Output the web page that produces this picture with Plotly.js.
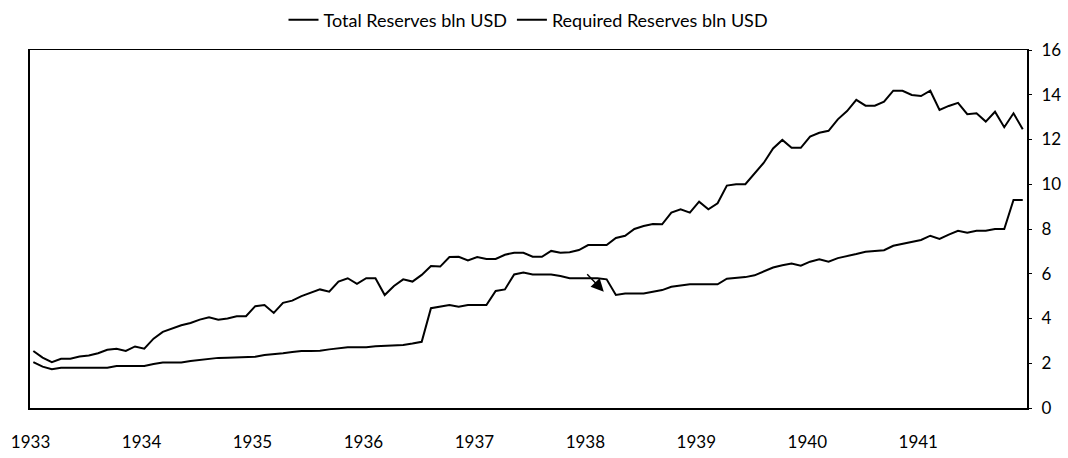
<!DOCTYPE html>
<html>
<head>
<meta charset="utf-8">
<script src="https://cdn.plot.ly/plotly-3.0.1.min.js"></script>
<style>
  html, body { margin: 0; padding: 0; background: #fff; }
  #chart { width: 1068px; height: 458px; }
</style>
</head>
<body>
<div id="chart"></div>
<script>
// Monthly observations, January 1933 – December 1941
const startYear = 1933;
const yearTicks = [1933, 1934, 1935, 1936, 1937, 1938, 1939, 1940, 1941];
const yTicks = [0, 2, 4, 6, 8, 10, 12, 14, 16];

const totalReserves = [
  2.55, 2.25, 2.05, 2.20, 2.20, 2.30, 2.35, 2.45, 2.60, 2.65, 2.55, 2.75,
  2.65, 3.10, 3.40, 3.55, 3.70, 3.80, 3.95, 4.05, 3.95, 4.00, 4.10, 4.10,
  4.55, 4.60, 4.25, 4.70, 4.80, 5.00, 5.15, 5.30, 5.20, 5.65, 5.80, 5.55,
  5.80, 5.80, 5.05, 5.45, 5.75, 5.65, 5.95, 6.35, 6.32, 6.75, 6.76, 6.60,
  6.75, 6.66, 6.66, 6.85, 6.94, 6.94, 6.76, 6.76, 7.02, 6.94, 6.96, 7.06,
  7.28, 7.28, 7.28, 7.60, 7.70, 8.00, 8.13, 8.22, 8.21, 8.73, 8.88, 8.73,
  9.22, 8.88, 9.15, 9.94, 10.00, 10.00, 10.50, 10.96, 11.60, 11.98, 11.63, 11.63,
  12.13, 12.30, 12.39, 12.90, 13.27, 13.77, 13.51, 13.51, 13.69, 14.18, 14.18, 13.99,
  13.94, 14.18, 13.32, 13.50, 13.64, 13.13, 13.17, 12.80, 13.24, 12.55, 13.17, 12.46
];

const requiredReserves = [
  2.05, 1.85, 1.73, 1.80, 1.80, 1.80, 1.80, 1.80, 1.80, 1.88, 1.88, 1.88,
  1.88, 1.97, 2.03, 2.03, 2.03, 2.10, 2.15, 2.22, 2.24, 2.25, 2.27, 2.27,
  2.29, 2.37, 2.40, 2.45, 2.50, 2.55, 2.55, 2.56, 2.62, 2.66, 2.71, 2.71,
  2.71, 2.76, 2.78, 2.80, 2.82, 2.88, 2.96, 4.46, 4.53, 4.60, 4.53, 4.60,
  4.60, 4.60, 5.23, 5.30, 5.97, 6.06, 5.97, 5.97, 5.97, 5.90, 5.80, 5.80,
  5.80, 5.80, 5.75, 5.05, 5.12, 5.12, 5.12, 5.20, 5.27, 5.42, 5.47, 5.53,
  5.53, 5.53, 5.53, 5.78, 5.80, 5.85, 5.93, 6.10, 6.28, 6.38, 6.46, 6.36,
  6.54, 6.65, 6.54, 6.70, 6.78, 6.88, 6.98, 7.01, 7.05, 7.25, 7.33, 7.40,
  7.51, 7.70, 7.56, 7.75, 7.92, 7.83, 7.92, 7.92, 8.00, 8.00, 9.30, 9.30
];

// month positions on a decimal-year axis
const monthX = totalReserves.map((_, i) => startYear + (i + 0.3) / 12);

const font = 'Lato, "Open Sans", sans-serif';

const traces = [
  {
    x: monthX, y: totalReserves, type: 'scatter', mode: 'lines',
    name: 'Total Reserves bln USD',
    line: { color: '#000', width: 2 }
  },
  {
    x: monthX, y: requiredReserves, type: 'scatter', mode: 'lines',
    name: 'Required Reserves bln USD',
    line: { color: '#000', width: 2 }
  }
];

const layout = {
  width: 1068, height: 458,
  margin: { l: 30, r: 41, t: 50, b: 50, pad: 0, autoexpand: false },
  paper_bgcolor: '#fff', plot_bgcolor: '#fff',
  font: { family: font, size: 17, color: '#000' },
  showlegend: true,
  legend: {
    orientation: 'h', x: 0.5, xanchor: 'center', y: 1.084, yanchor: 'middle',
    font: { family: font, size: 18, color: '#000' },
    itemwidth: 30, tracegroupgap: 0, bgcolor: 'rgba(0,0,0,0)'
  },
  xaxis: {
    range: [1932.995, 1941.98],
    tickmode: 'array', tickvals: yearTicks, ticktext: yearTicks.map(String),
    showgrid: false, zeroline: false,
    showline: true, linecolor: '#000', linewidth: 1.5, mirror: true,
    ticks: '', ticklabelstandoff: 18,
    tickfont: { family: font, size: 17, color: '#000' }
  },
  yaxis: {
    side: 'right', range: [0, 16],
    tickmode: 'array', tickvals: yTicks,
    showgrid: false, zeroline: false,
    showline: true, linecolor: '#000', linewidth: 2, mirror: true,
    ticks: 'outside', ticklen: 3, tickcolor: '#000', tickwidth: 1,
    ticklabelstandoff: 6,
    tickfont: { family: font, size: 17, color: '#000' }
  },
  annotations: [
    {
      x: 1938.166, y: 5.2, xref: 'x', yref: 'y',
      ax: -18, ay: -19, text: '', showarrow: true,
      arrowhead: 2, arrowsize: 1.8, arrowwidth: 1.4, arrowcolor: '#000'
    }
  ]
};

Plotly.newPlot('chart', traces, layout, { displayModeBar: false, staticPlot: true });
</script>
</body>
</html>
